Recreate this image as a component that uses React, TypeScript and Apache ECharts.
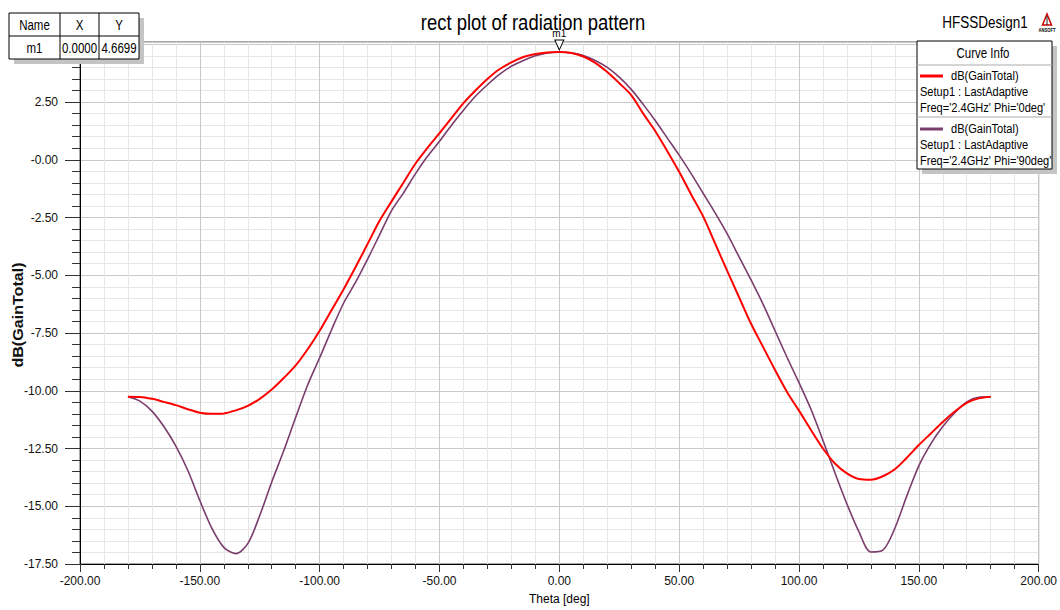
import React, { useEffect, useRef } from "react";
import * as echarts from "echarts";

const theta = [
  -180, -175, -170, -165, -160, -155, -150, -145, -140, -135, -130, -125, -120,
  -115, -110, -105, -100, -95, -90, -85, -80, -75, -70, -65, -60, -55, -50, -45,
  -40, -35, -30, -25, -20, -15, -10, -5, 0, 5, 10, 15, 20, 25, 30, 35, 40, 45,
  50, 55, 60, 65, 70, 75, 80, 85, 90, 95, 100, 105, 110, 115, 120, 125, 130,
  135, 140, 145, 150, 155, 160, 165, 170, 175, 180,
];

// dB(GainTotal), Phi = 0deg
const gainPhi0 = [
  -10.26, -10.27, -10.35, -10.48, -10.62, -10.8, -10.95, -11.0, -10.98, -10.85,
  -10.65, -10.35, -9.95, -9.45, -8.9, -8.2, -7.4, -6.5, -5.6, -4.64, -3.64,
  -2.64, -1.8, -0.98, -0.16, 0.52, 1.15, 1.8, 2.45, 3.0, 3.5, 3.92, 4.22, 4.45,
  4.58, 4.65, 4.67, 4.62, 4.47, 4.2, 3.8, 3.32, 2.8, 2.0, 1.25, 0.38, -0.52,
  -1.5, -2.45, -3.62, -4.8, -5.95, -7.1, -8.1, -9.1, -10.05, -10.86, -11.7,
  -12.5, -13.15, -13.58, -13.82, -13.85, -13.7, -13.4, -12.9, -12.35, -11.85,
  -11.35, -10.9, -10.52, -10.33, -10.26,
];

// dB(GainTotal), Phi = 90deg
const gainPhi90 = [
  -10.26, -10.45, -10.88, -11.55, -12.4, -13.45, -14.75, -15.95, -16.78, -17.05,
  -16.62, -15.4, -13.95, -12.6, -11.15, -9.75, -8.57, -7.35, -6.2, -5.3, -4.3,
  -3.25, -2.2, -1.43, -0.6, 0.15, 0.8, 1.5, 2.15, 2.75, 3.25, 3.7, 4.05, 4.3,
  4.5, 4.63, 4.67, 4.63, 4.52, 4.3, 4.0, 3.58, 3.05, 2.4, 1.7, 0.95, 0.2, -0.6,
  -1.45, -2.3, -3.2, -4.2, -5.2, -6.25, -7.4, -8.55, -9.65, -10.8, -12.15,
  -13.55, -14.9, -16.1, -16.98, -16.9, -15.95, -14.55, -13.25, -12.3, -11.55,
  -10.95, -10.48, -10.28, -10.26,
];

const seriesNames = ["dB(GainTotal) Phi='0deg'", "dB(GainTotal) Phi='90deg'"];
const markerTable = [["Name", "X", "Y"], ["m1", "0.0000", "4.6699"]];
const legendLines = [
  ["dB(GainTotal)", "Setup1 : LastAdaptive", "Freq='2.4GHz' Phi='0deg'"],
  ["dB(GainTotal)", "Setup1 : LastAdaptive", "Freq='2.4GHz' Phi='90deg'"],
];

const FONT = "'Liberation Sans', Arial, sans-serif";
const NARROW = 0.82;
const RED = "#ff0000";
const PURPLE = "#7a3d6c";

export default function App() {
  const ref = useRef<HTMLDivElement>(null);

  useEffect(() => {
    document.body.style.margin = "0";
    if (!ref.current) return;
    const chart = echarts.init(ref.current, undefined, { renderer: "svg" });

    const d0 = theta.map((t, i) => [t, gainPhi0[i]]);
    const d90 = theta.map((t, i) => [t, gainPhi90[i]]);

    const txt = (text: string, x: number, y: number, size: number, extra: any = {}) => ({
      type: "text",
      x,
      y,
      scaleX: NARROW,
      style: {
        text,
        fontFamily: FONT,
        fontSize: size,
        fill: "#000",
        align: "center",
        verticalAlign: "middle",
        ...extra,
      },
      z: 100,
    });

    const colX = [9, 60, 99, 139];
    const rowY = [13, 36, 59];
    const table: any[] = [
      { type: "rect", shape: { x: 14, y: 18, width: 130, height: 46 }, style: { fill: "#c4c4c4" }, z: 98 },
      { type: "rect", shape: { x: 9, y: 13, width: 130, height: 46 }, style: { fill: "#fff", stroke: "#000", lineWidth: 1 }, z: 99 },
      { type: "line", shape: { x1: 9, y1: 36, x2: 139, y2: 36 }, style: { stroke: "#000", lineWidth: 1 }, z: 100 },
      { type: "line", shape: { x1: 60, y1: 13, x2: 60, y2: 59 }, style: { stroke: "#000", lineWidth: 1 }, z: 100 },
      { type: "line", shape: { x1: 99, y1: 13, x2: 99, y2: 59 }, style: { stroke: "#000", lineWidth: 1 }, z: 100 },
    ];
    markerTable.forEach((row, r) => {
      row.forEach((cell, c) => {
        table.push(txt(cell, (colX[c] + colX[c + 1]) / 2, (rowY[r] + rowY[r + 1]) / 2 + 0.5, 14));
      });
    });

    const legend: any[] = [
      { type: "rect", shape: { x: 922, y: 46, width: 135, height: 128 }, style: { fill: "#c4c4c4" }, z: 98 },
      { type: "rect", shape: { x: 917, y: 41, width: 135, height: 128 }, style: { fill: "#fff", stroke: "#000", lineWidth: 1 }, z: 99 },
      { type: "line", shape: { x1: 917, y1: 65, x2: 1052, y2: 65 }, style: { stroke: "#aaa", lineWidth: 1 }, z: 100 },
      { type: "line", shape: { x1: 917, y1: 117, x2: 1052, y2: 117 }, style: { stroke: "#aaa", lineWidth: 1 }, z: 100 },
      txt("Curve Info", 983, 53, 14),
    ];
    const colors = [RED, PURPLE];
    legendLines.forEach((lines, k) => {
      const y0 = k === 0 ? 76 : 129;
      legend.push({
        type: "line",
        shape: { x1: 920, y1: y0, x2: 943, y2: y0 },
        style: { stroke: colors[k], lineWidth: 3 },
        z: 100,
      });
      legend.push(txt(lines[0], 951, y0, 13.5, { align: "left" }));
      legend.push(txt(lines[1], 920, y0 + 16, 13.5, { align: "left" }));
      legend.push(txt(lines[2], 920, y0 + 32, 13.5, { align: "left" }));
    });

    const option: any = {
      animation: false,
      backgroundColor: "#fff",
      grid: {
        left: 80,
        right: 20,
        top: 42,
        bottom: 42,
        show: true,
        borderColor: "#555",
        borderWidth: 1,
        backgroundColor: "#fff",
      },
      xAxis: {
        type: "value",
        min: -200,
        max: 200,
        interval: 50,
        name: "Theta [deg]",
        nameLocation: "middle",
        nameGap: 29,
        nameTextStyle: { fontFamily: FONT, fontSize: 12, color: "#000" },
        axisLine: { onZero: false, lineStyle: { color: "#000", width: 1 } },
        axisTick: { show: true, length: 8, lineStyle: { color: "#333" } },
        minorTick: { show: true, splitNumber: 5, length: 5, lineStyle: { color: "#333" } },
        splitLine: { show: true, lineStyle: { color: "#c8c8c8", width: 1 } },
        minorSplitLine: { show: true, lineStyle: { color: "#e6e6e6", width: 1 } },
        axisLabel: {
          fontFamily: FONT,
          fontSize: 12,
          color: "#111",
          margin: 11,
          formatter: (v: number) => v.toFixed(2),
        },
      },
      yAxis: {
        type: "value",
        min: -17.5,
        max: 5.1,
        interval: 2.5,
        axisLine: { onZero: false, lineStyle: { color: "#000", width: 1 } },
        axisTick: { show: true, length: 15, lineStyle: { color: "#333" } },
        minorTick: { show: true, splitNumber: 5, length: 8, lineStyle: { color: "#333" } },
        splitLine: { show: true, lineStyle: { color: "#c8c8c8", width: 1 } },
        minorSplitLine: { show: true, lineStyle: { color: "#e6e6e6", width: 1 } },
        axisLabel: {
          fontFamily: FONT,
          fontSize: 12,
          color: "#111",
          margin: 22,
          formatter: (v: number) => (v > 4.9 ? "" : v === 0 ? "-0.00" : v.toFixed(2)),
        },
      },
      series: [
        {
          name: seriesNames[1],
          type: "line",
          data: d90,
          showSymbol: false,
          smooth: 0.3,
          lineStyle: { color: PURPLE, width: 1.6 },
          itemStyle: { color: PURPLE },
          z: 2,
        },
        {
          name: seriesNames[0],
          type: "line",
          data: d0,
          showSymbol: false,
          smooth: 0.3,
          lineStyle: { color: RED, width: 2 },
          itemStyle: { color: RED },
          z: 3,
          markPoint: {
            symbol: "triangle",
            symbolSize: [9, 10],
            symbolRotate: 180,
            symbolOffset: [0, -7],
            itemStyle: { color: "#fff", borderColor: "#000", borderWidth: 1 },
            label: {
              show: true,
              position: "top",
              distance: 1,
              formatter: "m1",
              fontSize: 10,
              fontFamily: FONT,
              color: "#000",
            },
            data: [{ coord: [0, 4.6699] }],
          },
        },
      ],
      graphic: [
        txt("rect plot of radiation pattern", 533, 22, 22.5),
        txt("HFSSDesign1", 985, 22, 16.5),
        {
          type: "polygon",
          shape: { points: [[1047, 14], [1042.5, 25], [1051.5, 25]] },
          style: { fill: "none", stroke: "#c00", lineWidth: 1.5 },
          z: 100,
        },
        {
          type: "line",
          shape: { x1: 1047, y1: 16, x2: 1047, y2: 25 },
          style: { stroke: "#222", lineWidth: 1 },
          z: 100,
        },
        txt("ANSOFT", 1047, 30, 5, { fontWeight: "bold" }),
        {
          type: "text",
          x: 18,
          y: 315,
          rotation: Math.PI / 2,
          scaleX: 1.15,
          style: {
            text: "dB(GainTotal)",
            fontFamily: FONT,
            fontSize: 14,
            fontWeight: "bold",
            fill: "#111",
            align: "center",
            verticalAlign: "middle",
          },
          z: 100,
        },
        ...table,
        ...legend,
      ],
    };

    chart.setOption(option);
    return () => chart.dispose();
  }, []);

  return <div ref={ref} style={{ width: 1060, height: 610 }} />;
}
